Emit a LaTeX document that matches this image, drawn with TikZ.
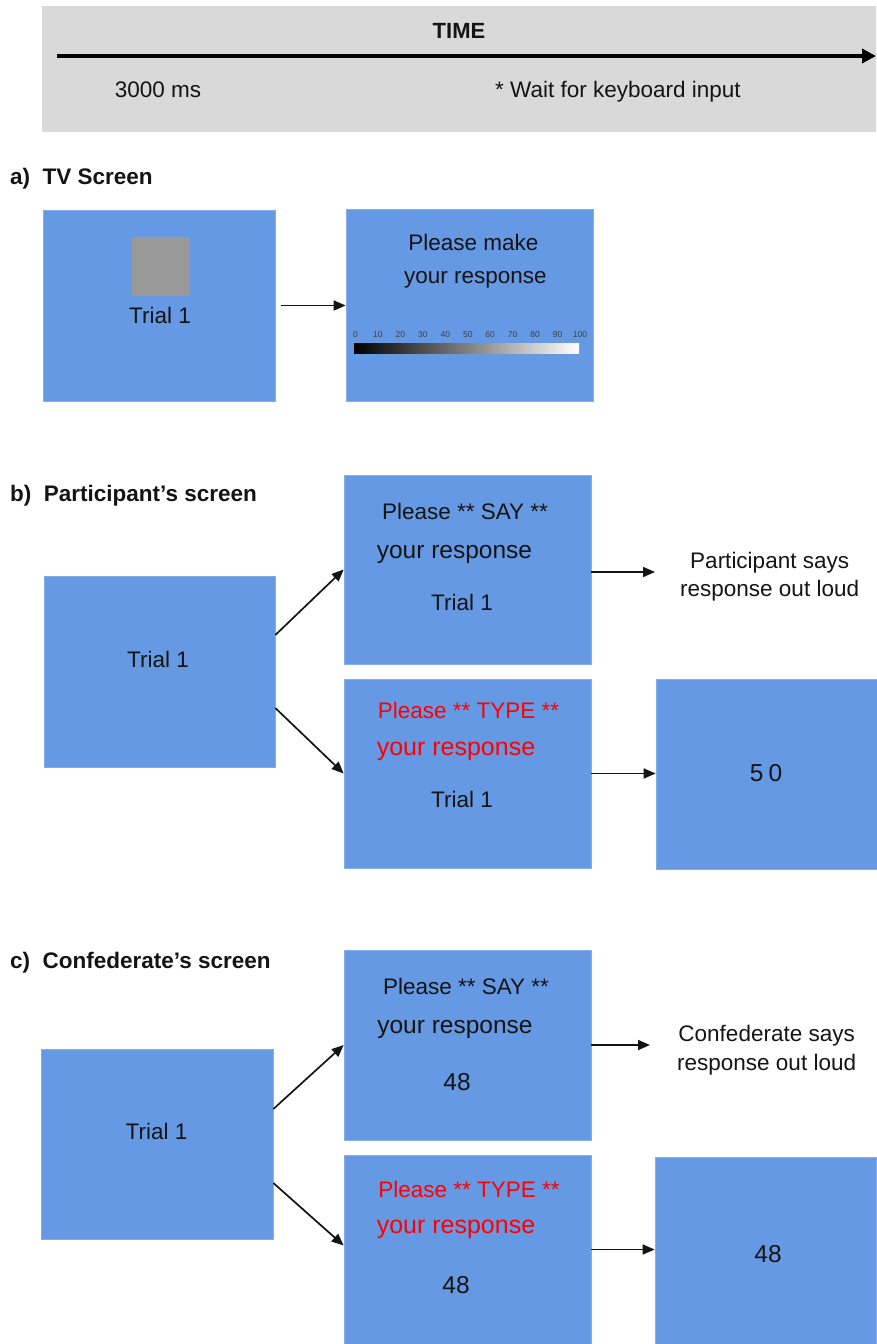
\documentclass[tikz,border=0pt]{standalone}
\usepackage{fontspec}
\setmainfont{Liberation Sans}
\usetikzlibrary{arrows.meta}
\definecolor{scr}{RGB}{102,153,228}
\definecolor{scredge}{RGB}{132,174,236}
\definecolor{bandgray}{RGB}{217,217,217}
\definecolor{sqgray}{RGB}{153,153,153}
\definecolor{ink}{RGB}{20,20,20}
\tikzset{
  screen/.style={fill=scr, draw=scredge, line width=0.7pt, inner sep=0pt},
  txt/.style={inner sep=0pt, anchor=base, text=ink, font=\fontsize{22.5}{28.5}\selectfont},
  bigtxt/.style={txt, font=\fontsize{24.5}{28.5}\selectfont},
  num/.style={inner sep=0pt, anchor=base, text=ink, font=\fontsize{24.5}{28.5}\selectfont},
  redtxt/.style={txt, text=red},
  redbig/.style={txt, text=red, font=\fontsize{25}{28.5}\selectfont},
  lbl/.style={inner sep=0pt, anchor=base west, text=ink, font=\fontsize{22.5}{27}\selectfont\bfseries},
  note/.style={inner sep=0pt, align=center, anchor=west, text=ink, font=\fontsize{22.5}{28.5}\selectfont},
  ticklbl/.style={inner sep=0pt, anchor=base, text=black!75, font=\fontsize{8.5}{10}\selectfont},
  conn/.style={line width=1.7pt, draw=ink, -{Triangle[length=12pt,width=10pt]}},
  timearrow/.style={line width=4.5pt, draw=black, -{Triangle[length=14pt,width=14pt]}},
}
\begin{document}
\begin{tikzpicture}[x=1pt,y=-1pt]
\useasboundingbox (0,0) rectangle (876,1344);

% ---------- time band ----------
\node[fill=bandgray, inner sep=0pt, minimum width=834pt, minimum height=126pt, anchor=north west] (band) at (42,6) {};
\node[txt, font=\fontsize{22}{26}\selectfont\bfseries] (time) at (459,38) {TIME};
\coordinate (tstart) at (57,56);
\coordinate (tend) at (876,56);
\draw[timearrow] (tstart) -- (tend);
\node[txt] (t3000) at (158,97) {3000 ms};
\node[txt] (twait) at (618,97) {* Wait for keyboard input};

% ---------- a) TV screen ----------
\node[lbl] (la) at (10,184) {a)\hspace{12.5pt}TV Screen};
\node[screen, minimum width=232pt, minimum height=191pt] (TV1) at (159,305.5) {};
\node[fill=sqgray, inner sep=0pt, minimum width=58pt, minimum height=59pt] (sq) at (160.5,266) {};
\node[txt] (tvtrial) at (160,323) {Trial 1};
\node[screen, minimum width=247pt, minimum height=192pt] (TV2) at (469.5,305) {};
\node[txt] (tvp1) at (473.5,250) {Please make};
\node[txt] (tvp2) at (475.5,283) {your response};
\foreach \i in {0,...,10} {
  \pgfmathtruncatemacro{\v}{10*\i}
  \node[ticklbl] (s\i) at (355.5+22.45*\i,337) {\v};
}
\node[inner sep=0pt, minimum width=225pt, minimum height=10pt, left color=black, right color=white] (bar) at (466.5,348) {};
\draw[conn] ([xshift=6pt]TV1.east) -- (TV1.east -| TV2.west);

% ---------- b) Participant's screen ----------
\node[lbl] (lb) at (10,501) {b)\hspace{12.5pt}Participant’s screen};
\node[screen, minimum width=231pt, minimum height=191pt] (P0) at (159.5,671.5) {};
\node[txt] (p0t) at (158,667) {Trial 1};
\node[screen, minimum width=247pt, minimum height=189pt] (P1) at (467.5,569.5) {};
\node[txt] (p1a) at (465,519) {Please ** SAY **};
\node[bigtxt] (p1b) at (454.5,558) {your response};
\node[txt] (p1c) at (462,610) {Trial 1};
\node[screen, minimum width=247pt, minimum height=189pt] (P2) at (467.5,773.5) {};
\node[redtxt] (p2a) at (468.5,718) {Please ** TYPE **};
\node[redbig] (p2b) at (456,755) {your response};
\node[txt] (p2c) at (462,807) {Trial 1};
\node[note, inner xsep=25pt] (Psay) at (655,576.6) {Participant says\\response out loud};
\node[screen, minimum width=221pt, minimum height=190pt] (P3) at (766.5,774) {};
\node[num] (p3t) at (766,781) {5\kern5pt 0};
\draw[conn] ([yshift=36.5pt]P0.east) -- (P1.west);
\draw[conn] ([yshift=-36.5pt]P0.east) -- (P2.west);
\draw[conn] ([yshift=-2.5pt]P1.east) -- ([yshift=-2.5pt]P1.east -| Psay.west);
\draw[conn] (P2.east) -- (P2.east -| P3.west);

% ---------- c) Confederate's screen ----------
\node[lbl] (lc) at (10,968) {c)\hspace{12.5pt}Confederate’s screen};
\node[screen, minimum width=232pt, minimum height=190pt] (C0) at (157,1144) {};
\node[txt] (c0t) at (156.5,1139) {Trial 1};
\node[screen, minimum width=247pt, minimum height=190pt] (C1) at (467.5,1045) {};
\node[txt] (c1a) at (466,994) {Please ** SAY **};
\node[bigtxt] (c1b) at (455,1033) {your response};
\node[num] (c1c) at (457,1090) {48};
\node[screen, minimum width=247pt, minimum height=189pt] (C2) at (467.5,1249.5) {};
\node[redtxt] (c2a) at (469,1197) {Please ** TYPE **};
\node[redbig] (c2b) at (456,1233) {your response};
\node[num] (c2c) at (456,1293) {48};
\node[note, inner xsep=27pt] (Csay) at (650,1050.2) {Confederate says\\response out loud};
\node[screen, minimum width=221pt, minimum height=187pt] (C3) at (765.5,1250.5) {};
\node[num] (c3t) at (768,1262) {48};
\draw[conn] ([yshift=35pt]C0.east) -- (C1.west);
\draw[conn] ([yshift=-39pt]C0.east) -- ([yshift=4pt]C2.west);
\draw[conn] (C1.east) -- (C1.east -| Csay.west);
\draw[conn] (C2.east) -- (C2.east -| C3.west);
\end{tikzpicture}
\end{document}
